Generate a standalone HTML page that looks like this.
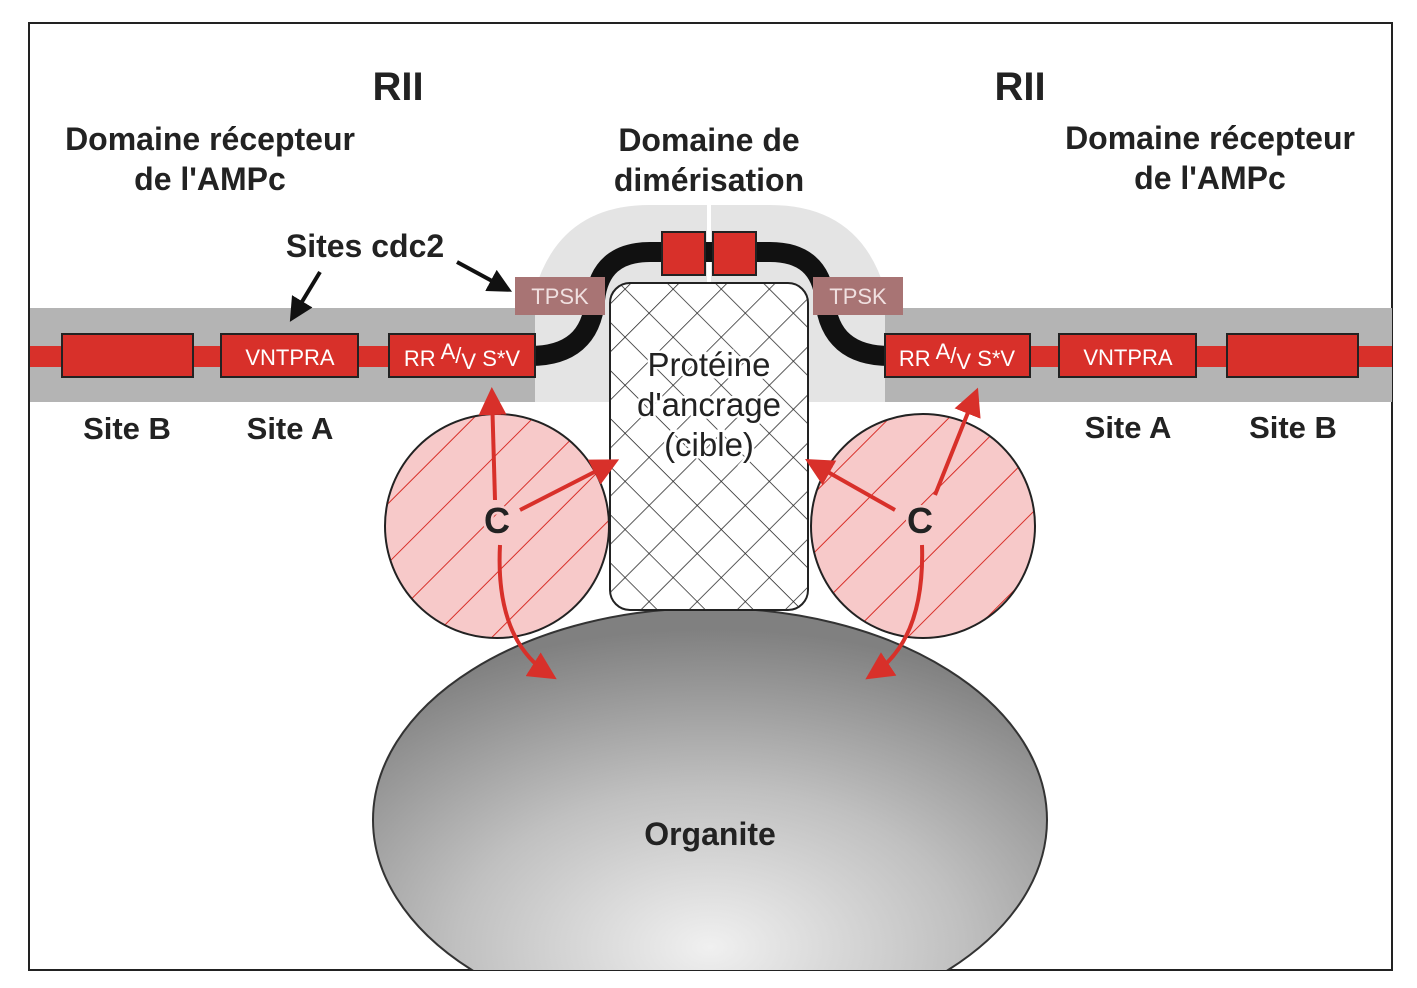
<!DOCTYPE html>
<html><head><meta charset="utf-8"><style>html,body{margin:0;padding:0;background:#fff}svg{display:block}</style></head>
<body>
<svg width="1417" height="988" viewBox="0 0 1417 988" font-family="Liberation Sans, Arial, sans-serif">
<defs>
<pattern id="hatch" width="34" height="34" patternUnits="userSpaceOnUse" patternTransform="rotate(45)">
<rect width="34" height="34" fill="#fff"/>
<line x1="0" y1="0" x2="0" y2="34" stroke="#222" stroke-width="1.5"/>
<line x1="0" y1="0" x2="34" y2="0" stroke="#222" stroke-width="1.5"/>
</pattern>
<pattern id="diag" width="42" height="42" patternUnits="userSpaceOnUse" patternTransform="rotate(-45)">
<rect width="42" height="42" fill="#f7c9c9"/>
<line x1="0" y1="0" x2="42" y2="0" stroke="#d8302a" stroke-width="2"/>
</pattern>
<radialGradient id="org" cx="0.5" cy="0.8" r="0.75">
<stop offset="0" stop-color="#f0f0f0"/>
<stop offset="0.5" stop-color="#c0c0c0"/>
<stop offset="1" stop-color="#808080"/>
</radialGradient>
<clipPath id="frame"><rect x="30" y="24" width="1362" height="946"/></clipPath>
<marker id="ar" markerWidth="7" markerHeight="7" refX="5" refY="3.5" orient="auto" markerUnits="strokeWidth"><path d="M0,0 L7,3.5 L0,7 z" fill="#d8302a"/></marker>
<marker id="ak" markerWidth="6" markerHeight="6" refX="4" refY="3" orient="auto" markerUnits="strokeWidth"><path d="M0,0 L6,3 L0,6 z" fill="#111"/></marker>
</defs>
<rect x="29" y="23" width="1363" height="947" fill="#fff" stroke="#222" stroke-width="2"/>
<g clip-path="url(#frame)">
<path d="M535,402 L535,290 Q560,205 650,205 L770,205 Q860,205 885,290 L885,402 Z" fill="#e4e4e4"/>
<line x1="709" y1="205" x2="709" y2="290" stroke="#fff" stroke-width="4"/>
<rect x="30" y="308" width="505" height="94" fill="#b4b4b4"/>
<rect x="885" y="308" width="507" height="94" fill="#b4b4b4"/>
<rect x="30" y="346" width="505" height="21" fill="#d8302a"/>
<rect x="885" y="346" width="507" height="21" fill="#d8302a"/>
<ellipse cx="710" cy="820" rx="337" ry="212" fill="url(#org)" stroke="#333" stroke-width="2"/>
<path d="M530,356 Q590,356 595,300 Q600,252 650,252 L770,252 Q820,252 825,300 Q830,356 890,356" fill="none" stroke="#111" stroke-width="20"/>
</g>
<rect x="662" y="232" width="43" height="43" fill="#d8302a" stroke="#222" stroke-width="2"/>
<rect x="713" y="232" width="43" height="43" fill="#d8302a" stroke="#222" stroke-width="2"/>
<rect x="515" y="277" width="90" height="38" fill="#a87474"/>
<text x="560" y="304" font-size="22" fill="#f0e0e0" text-anchor="middle">TPSK</text>
<rect x="813" y="277" width="90" height="38" fill="#a87474"/>
<text x="858" y="304" font-size="22" fill="#f0e0e0" text-anchor="middle">TPSK</text>
<rect x="610" y="283" width="198" height="327" rx="20" fill="url(#hatch)" stroke="#222" stroke-width="2"/>
<g font-size="33" fill="#222" text-anchor="middle" stroke="#fff" stroke-width="5" paint-order="stroke">
<text x="709" y="376">Protéine</text>
<text x="709" y="416">d'ancrage</text>
<text x="709" y="456">(cible)</text>
</g>
<g stroke="#222" stroke-width="2" fill="#d8302a">
<rect x="62" y="334" width="131" height="43"/>
<rect x="221" y="334" width="137" height="43"/>
<rect x="389" y="334" width="146" height="43"/>
<rect x="885" y="334" width="145" height="43"/>
<rect x="1059" y="334" width="137" height="43"/>
<rect x="1227" y="334" width="131" height="43"/>
</g>
<g fill="#fff" font-size="22" text-anchor="middle">
<text x="290" y="365">VNTPRA</text>
<text x="1128" y="365">VNTPRA</text>
<text x="462" y="366">RR <tspan dy="-7">A</tspan><tspan dy="4">/</tspan><tspan dy="6">V</tspan><tspan dy="-3"> S*V</tspan></text>
<text x="957" y="366">RR <tspan dy="-7">A</tspan><tspan dy="4">/</tspan><tspan dy="6">V</tspan><tspan dy="-3"> S*V</tspan></text>
</g>
<circle cx="497" cy="526" r="112" fill="url(#diag)" stroke="#222" stroke-width="2"/>
<circle cx="923" cy="526" r="112" fill="url(#diag)" stroke="#222" stroke-width="2"/>
<g fill="none" stroke="#d8302a" stroke-width="4">
<line x1="495" y1="500" x2="492" y2="395" marker-end="url(#ar)"/>
<line x1="520" y1="510" x2="612" y2="463" marker-end="url(#ar)"/>
<path d="M500,545 Q495,640 550,675" marker-end="url(#ar)"/>
<line x1="935" y1="495" x2="975" y2="395" marker-end="url(#ar)"/>
<line x1="895" y1="510" x2="812" y2="463" marker-end="url(#ar)"/>
<path d="M922,545 Q925,640 872,675" marker-end="url(#ar)"/>
</g>
<g font-weight="bold" fill="#222" text-anchor="middle">
<text x="497" y="533" font-size="36" stroke="#f7c9c9" stroke-width="5" paint-order="stroke">C</text>
<text x="920" y="533" font-size="36" stroke="#f7c9c9" stroke-width="5" paint-order="stroke">C</text>
<text x="398" y="100" font-size="40">RII</text>
<text x="1020" y="100" font-size="40">RII</text>
<g font-size="32">
<text x="210" y="150">Domaine récepteur</text>
<text x="210" y="190">de l'AMPc</text>
<text x="709" y="151">Domaine de</text>
<text x="709" y="191">dimérisation</text>
<text x="1210" y="149">Domaine récepteur</text>
<text x="1210" y="189">de l'AMPc</text>
<text x="365" y="257">Sites cdc2</text>
</g>
<g font-size="31">
<text x="127" y="439">Site B</text>
<text x="290" y="439">Site A</text>
<text x="1128" y="438">Site A</text>
<text x="1293" y="438">Site B</text>
</g>
<text x="710" y="845" font-size="32">Organite</text>
</g>
<g stroke="#111" stroke-width="4" fill="none">
<line x1="320" y1="272" x2="294" y2="315" marker-end="url(#ak)"/>
<line x1="457" y1="262" x2="505" y2="288" marker-end="url(#ak)"/>
</g>
</svg>
</body></html>
